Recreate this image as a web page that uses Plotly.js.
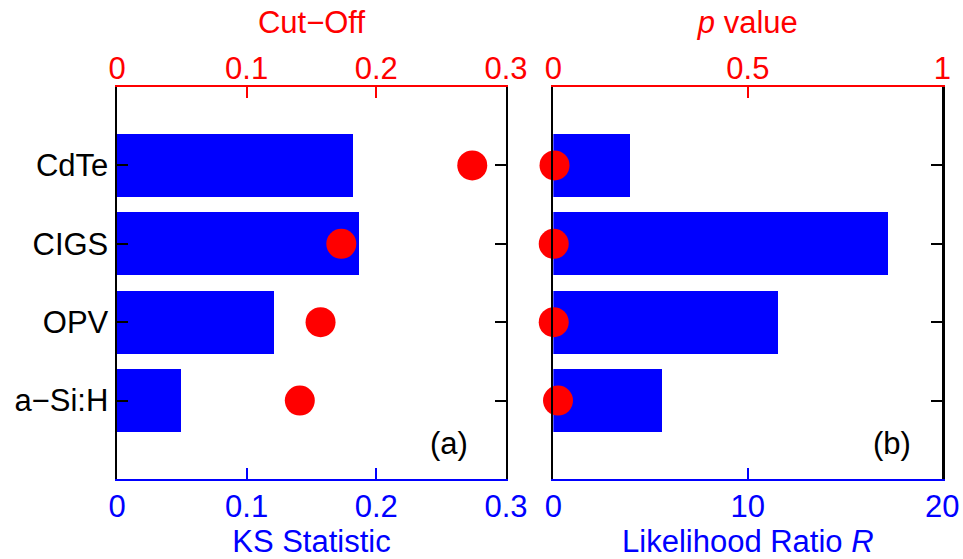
<!DOCTYPE html>
<html>
<head>
<meta charset="utf-8">
<script src="https://cdn.plot.ly/plotly-3.0.1.min.js"></script>
<style>html,body{margin:0;padding:0;background:#fff;}#chart{width:963px;height:559px;}</style>
</head>
<body>
<div id="chart"></div>
<script>
// Data
var categories = ["CdTe", "CIGS", "OPV", "a\u2212Si:H"];
var categoryPos = [4, 3, 2, 1];
var ksStatistic = [0.182, 0.187, 0.121, 0.049];
var cutOff = [0.274, 0.173, 0.157, 0.141];
var likelihoodR = [3.96, 17.22, 11.57, 5.59];
var pValue = [0.003, 0.001, 0.001, 0.012];
var ksTicks = [0, 0.1, 0.2, 0.3];
var cutTicks = [0, 0.1, 0.2, 0.3];
var rTicks = [0, 10, 20];
var pTicks = [0, 0.5, 1];

var BLUE = "#0000ff", RED = "#ff0000", FONT = "Liberation Sans, Arial, Helvetica, sans-serif";
var FS = 31;

var traces = [
  {type: "bar", orientation: "h", x: ksStatistic, y: categoryPos, width: 0.8,
   marker: {color: BLUE, line: {width: 0}}, xaxis: "x", yaxis: "y"},
  {type: "scatter", mode: "markers", x: cutOff, y: categoryPos,
   marker: {color: RED, size: 30, line: {width: 0}}, xaxis: "x2", yaxis: "y", cliponaxis: false},
  {type: "bar", orientation: "h", x: likelihoodR, y: categoryPos, width: 0.8,
   marker: {color: BLUE, line: {width: 0}}, xaxis: "x3", yaxis: "y2"},
  {type: "scatter", mode: "markers", x: pValue, y: categoryPos,
   marker: {color: RED, size: 30, line: {width: 0}}, xaxis: "x4", yaxis: "y2", cliponaxis: false}
];

function xax(opts) {
  var base = {
    showgrid: false, zeroline: false, showline: true, linewidth: 2,
    ticks: "inside", ticklen: 11, tickwidth: 2, automargin: false,
    tickfont: {family: FONT, size: FS}, fixedrange: true
  };
  for (var k in opts) base[k] = opts[k];
  return base;
}
var yBase = function(opts) {
  var b = {
    range: [0, 5], tickmode: "array", tickvals: categoryPos, ticktext: categories,
    showgrid: false, zeroline: false, showline: true, mirror: "ticks", linewidth: 2.5,
    linecolor: "#000", ticks: "inside", ticklen: 11, tickwidth: 2, tickcolor: "#000",
    tickfont: {family: FONT, size: FS, color: "#000"}, automargin: false, fixedrange: true
  };
  for (var k in opts) b[k] = opts[k];
  return b;
};

var layout = {
  width: 963, height: 559,
  margin: {l: 0, r: 0, t: 0, b: 0},
  paper_bgcolor: "#fff", plot_bgcolor: "#fff",
  showlegend: false,
  font: {family: FONT, size: FS, color: "#000"},
  bargap: 0,
  xaxis: xax({domain: [0.1215, 0.5254], range: [0, 0.3], tickvals: ksTicks, ticktext: ["0","0.1","0.2","0.3"],
    anchor: "y", side: "bottom", color: BLUE, linecolor: BLUE, tickcolor: BLUE, ticklabelstandoff: -1,
    title: {text: "KS Statistic", font: {family: FONT, size: FS, color: BLUE}, standoff: 3}}),
  xaxis2: xax({domain: [0.1215, 0.5254], range: [0, 0.3], tickvals: cutTicks, ticktext: ["0","0.1","0.2","0.3"],
    anchor: "y", overlaying: "x", side: "top", color: RED, linecolor: RED, tickcolor: RED, ticklabelstandoff: -6,
    title: {text: "Cut\u2212Off", font: {family: FONT, size: FS, color: RED}, standoff: 8}}),
  xaxis3: xax({domain: [0.5746, 0.9785], range: [0, 20], tickvals: rTicks, ticktext: ["0","10","20"],
    anchor: "y2", side: "bottom", color: BLUE, linecolor: BLUE, tickcolor: BLUE, ticklabelstandoff: -1,
    title: {text: "Likelihood Ratio <i>R</i>", font: {family: FONT, size: FS, color: BLUE}, standoff: 3}}),
  xaxis4: xax({domain: [0.5746, 0.9785], range: [0, 1], tickvals: pTicks, ticktext: ["0","0.5","1"],
    anchor: "y2", overlaying: "x3", side: "top", color: RED, linecolor: RED, tickcolor: RED, ticklabelstandoff: -6,
    title: {text: "<i>p</i> value", font: {family: FONT, size: FS, color: RED}, standoff: 8}}),
  yaxis: yBase({domain: [0.1431, 0.8444], anchor: "x"}),
  yaxis2: yBase({domain: [0.1431, 0.8444], anchor: "x3", side: "right", mirror: true, showticklabels: false}),
  annotations: [
    {text: "(a)", xref: "x", yref: "y", x: 0.256, y: 0.45, showarrow: false,
     font: {family: FONT, size: FS, color: "#000"}},
    {text: "(b)", xref: "x3", yref: "y2", x: 17.4, y: 0.45, showarrow: false,
     font: {family: FONT, size: FS, color: "#000"}}
  ]
};

Plotly.newPlot("chart", traces, layout, {staticPlot: true, displayModeBar: false});
</script>
</body>
</html>
